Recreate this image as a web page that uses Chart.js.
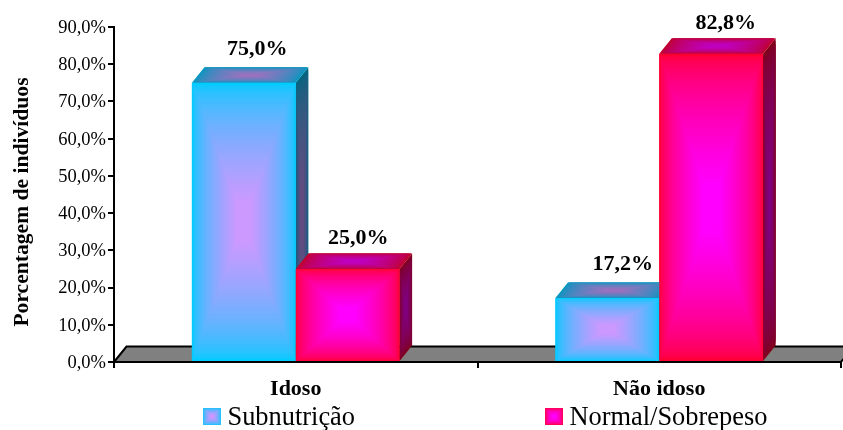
<!DOCTYPE html>
<html lang="pt">
<head>
<meta charset="utf-8">
<title>Porcentagem de indivíduos</title>
<script src="https://cdn.jsdelivr.net/npm/chart.js@4/dist/chart.umd.min.js"></script>
<style>
  html, body { margin: 0; padding: 0; background: #fff; }
  canvas { display: block; }
</style>
</head>
<body>
<canvas id="grafico" width="843" height="430"></canvas>
<script>
const categorias = ['Idoso', 'Não idoso'];
const subnutricao = [75.0, 17.2];
const normalSobrepeso = [25.0, 82.8];
const nomesSeries = ['Subnutrição', 'Normal/Sobrepeso'];
const ticksY = [0, 10, 20, 30, 40, 50, 60, 70, 80, 90];
const tituloY = 'Porcentagem de indivíduos';

const SERIF = '"Liberation Serif", "Times New Roman", serif';
const DX = 12.5, DY = 15.5;

// borda e centro de cada serie
const cores = [
    { borda: [0, 204, 255], centro: [204, 153, 255] },
    { borda: [255, 0, 51], centro: [255, 0, 255] }
];
const SOMBRA_TOPO = 0.75, SOMBRA_LADO = 0.5;

// ajuste fino dos rotulos de valor, por serie e categoria
const ajusteRotulos = [
    [[1, -1], [3, -1]],
    [[-2, 2], [2, 2]]
];

const fmt = v => v.toFixed(1).replace('.', ',') + '%';

function mistura(a, b, t, f) {
    const c = a.map((v, i) => Math.round((v + (b[i] - v) * t) * f));
    return `rgb(${c[0]},${c[1]},${c[2]})`;
}

// gradiente "do centro": poligonos concentricos, de fora para dentro
function faceGradiente(ctx, pts, cor, f) {
    const cx = pts.reduce((s, p) => s + p[0], 0) / pts.length;
    const cy = pts.reduce((s, p) => s + p[1], 0) / pts.length;
    const passos = 60;
    for (let i = 0; i < passos; i++) {
        const t = i / passos, k = 1 - t;
        ctx.fillStyle = mistura(cor.borda, cor.centro, Math.min(1, 1.1 * Math.pow(t, 0.6)), f);
        ctx.beginPath();
        pts.forEach((p, j) => {
            const x = cx + (p[0] - cx) * k, y = cy + (p[1] - cy) * k;
            if (j) ctx.lineTo(x, y); else ctx.moveTo(x, y);
        });
        ctx.closePath();
        ctx.fill();
    }
}

const piso = {
    id: 'piso',
    beforeDraw(chart) {
        const { ctx, chartArea: a } = chart;
        ctx.save();
        ctx.fillStyle = '#808080';
        ctx.strokeStyle = '#000';
        ctx.lineWidth = 2;
        ctx.beginPath();
        ctx.moveTo(a.left, a.bottom);
        ctx.lineTo(a.left + DX, a.bottom - DY);
        ctx.lineTo(a.right + DX, a.bottom - DY);
        ctx.lineTo(a.right, a.bottom);
        ctx.closePath();
        ctx.fill();
        ctx.stroke();
        ctx.restore();
    }
};

const barras3d = {
    id: 'barras3d',
    afterDatasetsDraw(chart) {
        const ctx = chart.ctx;
        ctx.save();
        chart.data.labels.forEach((_, idx) => {
            chart.data.datasets.forEach((ds, s) => {
                const b = chart.getDatasetMeta(s).data[idx];
                const x0 = b.x - b.width / 2, x1 = b.x + b.width / 2;
                const topo = b.y, base = b.base;
                faceGradiente(ctx, [[x1, topo], [x1 + DX, topo - DY], [x1 + DX, base - DY], [x1, base]], cores[s], SOMBRA_LADO);
                faceGradiente(ctx, [[x0, topo], [x0 + DX, topo - DY], [x1 + DX, topo - DY], [x1, topo]], cores[s], SOMBRA_TOPO);
                faceGradiente(ctx, [[x0, topo], [x1, topo], [x1, base], [x0, base]], cores[s], 1);
            });
        });
        ctx.restore();
    }
};

const rotulos = {
    id: 'rotulos',
    afterDatasetsDraw(chart) {
        const ctx = chart.ctx;
        ctx.save();
        ctx.fillStyle = '#000';
        ctx.textAlign = 'center';
        ctx.textBaseline = 'alphabetic';
        ctx.font = 'bold 22px ' + SERIF;
        chart.data.datasets.forEach((ds, s) => {
            chart.getDatasetMeta(s).data.forEach((b, i) => {
                const aj = ajusteRotulos[s][i];
                ctx.fillText(fmt(ds.data[i]), b.x + DX + aj[0], b.y - DY - 11 + aj[1]);
            });
        });
        ctx.restore();
    }
};

// titulo do eixo Y e legenda
const textos = {
    id: 'textos',
    afterDraw(chart) {
        const ctx = chart.ctx;
        ctx.save();
        ctx.fillStyle = '#000';
        ctx.translate(28, 202);
        ctx.rotate(-Math.PI / 2);
        ctx.textAlign = 'center';
        ctx.font = 'bold 21.6px ' + SERIF;
        ctx.fillText(tituloY, 0, 0);
        ctx.restore();

        const swatches = [203, 545];
        ctx.save();
        ctx.font = '26.4px ' + SERIF;
        ctx.textBaseline = 'alphabetic';
        nomesSeries.forEach((nome, s) => {
            const x = swatches[s];
            faceGradiente(ctx, [[x, 408], [x + 18, 408], [x + 18, 425], [x, 425]], cores[s], 1);
            ctx.fillStyle = '#000';
            ctx.fillText(nome, x + 24.5, 425);
        });
        ctx.restore();
    }
};

new Chart(document.getElementById('grafico'), {
    type: 'bar',
    data: {
        labels: categorias,
        datasets: [
            { label: nomesSeries[0], data: subnutricao, backgroundColor: 'rgb(0,204,255)' },
            { label: nomesSeries[1], data: normalSobrepeso, backgroundColor: 'rgb(255,0,51)' }
        ]
    },
    options: {
        responsive: false,
        animation: false,
        layout: { padding: { top: 27, right: 2, bottom: 0, left: 0 } },
        categoryPercentage: 0.5714,
        barPercentage: 1,
        plugins: { legend: { display: false }, tooltip: { enabled: false } },
        scales: {
            x: {
                z: 1,
                afterFit(s) { s.height = 68; },
                border: { color: '#000', width: 2 },
                grid: { drawOnChartArea: false, color: '#000', tickColor: '#000', lineWidth: 2, tickLength: 6 },
                ticks: { color: '#000', padding: 8, maxRotation: 0, font: { family: SERIF, size: 22, weight: 'bold' } }
            },
            y: {
                z: 1,
                min: 0,
                max: 90,
                afterFit(s) { s.width = 114; },
                afterBuildTicks(s) { s.ticks = ticksY.map(v => ({ value: v })); },
                border: { color: '#000', width: 2 },
                grid: { drawOnChartArea: false, color: '#000', tickColor: '#000', lineWidth: 2, tickLength: 6 },
                ticks: { color: '#000', padding: 2, labelOffset: 1, callback: v => fmt(v), font: { family: SERIF, size: 18.5 } }
            }
        }
    },
    plugins: [piso, barras3d, rotulos, textos]
});
</script>
</body>
</html>
